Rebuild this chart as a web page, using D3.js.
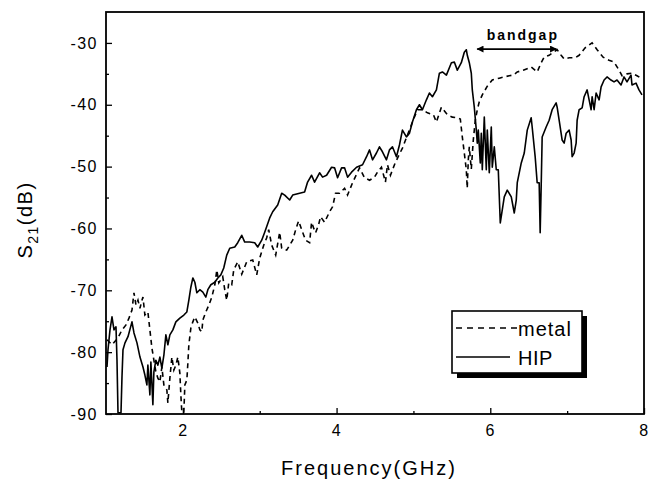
<!DOCTYPE html>
<html>
<head>
<meta charset="utf-8">
<script src="https://cdn.jsdelivr.net/npm/d3@7"></script>
<style>
  body { margin: 0; background: #fff; }
  text { font-family: "Liberation Sans", Arial, sans-serif; fill: #000; }
</style>
</head>
<body>
<div id="chart"></div>
<script>
// ---- data (GHz / dB) ----
const hipFreq = [1.013,1.026,1.052,1.078,1.104,1.13,1.143,1.156,1.195,1.208,
  1.221,1.247,1.286,1.338,1.364,1.403,1.442,1.481,1.506,1.532,
  1.545,1.571,1.584,1.61,1.623,1.649,1.675,1.701,1.727,1.753,
  1.779,1.805,1.831,1.87,1.909,1.961,2.013,2.052,2.078,2.104,
  2.13,2.156,2.182,2.221,2.26,2.299,2.325,2.364,2.416,2.455,
  2.494,2.532,2.571,2.61,2.675,2.714,2.766,2.805,2.87,2.935,
  2.974,3.026,3.065,3.13,3.169,3.234,3.286,3.325,3.39,3.429,
  3.519,3.584,3.623,3.675,3.714,3.779,3.818,3.87,3.935,3.974,
  4.013,4.065,4.104,4.143,4.195,4.26,4.338,4.39,4.429,4.468,
  4.519,4.558,4.597,4.649,4.688,4.727,4.779,4.818,4.857,4.909,
  4.948,4.987,5.039,5.078,5.117,5.169,5.208,5.247,5.299,5.338,
  5.377,5.429,5.494,5.532,5.571,5.623,5.662,5.688,5.701,5.727,
  5.753,5.766,5.792,5.818,5.831,5.844,5.87,5.883,5.896,5.922,
  5.948,5.961,5.987,6.013,6.026,6.052,6.078,6.104,6.13,6.156,
  6.182,6.221,6.273,6.312,6.338,6.351,6.403,6.442,6.481,6.532,
  6.545,6.584,6.61,6.636,6.649,6.662,6.675,6.727,6.766,6.805,
  6.857,6.87,6.896,6.935,6.961,6.987,7.026,7.052,7.065,7.091,
  7.117,7.13,7.156,7.195,7.221,7.26,7.286,7.312,7.325,7.351,
  7.377,7.416,7.442,7.481,7.519,7.571,7.61,7.649,7.701,7.74,
  7.779,7.831,7.844,7.896,7.935,7.974];
const hipS21 = [-82.4,-79.6,-76.4,-74.3,-76.4,-75.9,-81.3,-89.8,-89.8,-84.0,
  -79.6,-78.5,-77.5,-75.1,-76.9,-78.5,-80.8,-82.4,-83.7,-85.3,
  -82.1,-86.9,-81.6,-88.5,-83.2,-81.3,-82.1,-80.8,-82.6,-80.5,
  -77.2,-78.8,-77.2,-76.4,-75.1,-74.5,-74.0,-73.5,-71.6,-69.5,
  -68.0,-68.7,-70.4,-69.9,-70.3,-71.1,-69.9,-69.1,-68.7,-68.0,
  -67.5,-66.4,-64.3,-63.2,-63.0,-62.3,-61.1,-62.2,-62.2,-62.3,
  -63.0,-61.9,-60.6,-58.3,-57.3,-56.2,-54.3,-54.6,-55.4,-54.6,
  -54.3,-54.1,-52.5,-51.4,-52.5,-51.0,-51.7,-51.4,-50.1,-50.2,
  -51.8,-50.2,-50.2,-51.7,-50.9,-50.1,-49.7,-48.4,-47.3,-48.9,
  -47.8,-46.8,-47.6,-48.9,-47.3,-46.8,-48.4,-46.5,-44.1,-45.2,
  -44.6,-42.8,-40.8,-40.0,-40.8,-39.2,-38.1,-38.7,-37.6,-34.9,
  -34.7,-35.2,-33.2,-33.1,-34.4,-33.2,-31.5,-31.1,-32.0,-33.2,
  -34.9,-37.6,-40.4,-44.1,-46.2,-44.1,-49.4,-44.6,-50.5,-42.0,
  -50.5,-44.1,-51.0,-43.6,-50.1,-46.8,-50.5,-50.5,-59.1,-57.0,
  -54.9,-53.8,-54.9,-57.5,-55.4,-52.6,-49.4,-47.8,-44.1,-42.1,
  -43.6,-48.4,-52.6,-52.6,-60.7,-53.3,-45.2,-43.6,-42.5,-40.8,
  -39.7,-40.4,-42.5,-45.7,-46.2,-44.6,-44.1,-45.7,-48.4,-47.8,
  -46.2,-42.5,-40.8,-40.5,-38.7,-37.6,-39.2,-40.8,-38.7,-40.8,
  -38.1,-39.2,-37.1,-36.0,-35.5,-36.0,-36.3,-36.0,-36.8,-35.5,
  -36.3,-35.2,-36.8,-36.5,-37.6,-38.4];

const metalFreq = [1.013,1.078,1.156,1.208,1.26,1.299,1.338,1.364,1.39,1.416,
  1.442,1.468,1.481,1.506,1.545,1.571,1.597,1.623,1.649,1.675,
  1.701,1.727,1.753,1.792,1.805,1.831,1.857,1.883,1.909,1.935,
  1.961,1.974,1.987,2.013,2.026,2.052,2.065,2.078,2.104,2.13,
  2.156,2.195,2.221,2.247,2.26,2.299,2.338,2.377,2.416,2.442,
  2.468,2.494,2.519,2.545,2.571,2.597,2.636,2.662,2.714,2.766,
  2.831,2.909,2.961,3.0,3.052,3.091,3.117,3.156,3.208,3.26,
  3.286,3.351,3.39,3.429,3.468,3.506,3.558,3.597,3.649,3.675,
  3.701,3.727,3.766,3.792,3.844,3.909,3.948,3.987,4.039,4.104,
  4.143,4.208,4.299,4.364,4.429,4.494,4.532,4.584,4.636,4.662,
  4.701,4.753,4.805,4.857,4.922,4.987,5.052,5.117,5.182,5.26,
  5.299,5.364,5.442,5.506,5.571,5.61,5.636,5.662,5.688,5.7,
  5.714,5.727,5.753,5.779,5.805,5.831,5.857,5.896,5.961,6.026,
  6.117,6.182,6.247,6.299,6.351,6.429,6.532,6.61,6.662,6.701,
  6.766,6.87,6.922,6.961,7.026,7.104,7.156,7.234,7.325,7.39,
  7.468,7.545,7.61,7.675,7.714,7.779,7.844,7.909,7.974];
const metalS21 = [-78.0,-78.8,-77.7,-76.4,-75.6,-74.5,-73.2,-70.4,-72.4,-71.6,
  -72.9,-71.6,-71.1,-74.0,-73.5,-76.4,-79.3,-81.3,-83.2,-84.2,
  -84.8,-82.4,-85.3,-86.1,-88.2,-84.2,-80.8,-82.9,-82.1,-80.8,
  -83.4,-86.9,-89.8,-89.7,-85.3,-84.5,-81.8,-78.8,-76.1,-75.1,
  -74.3,-75.3,-76.4,-76.7,-74.8,-73.5,-72.4,-71.1,-69.1,-66.7,
  -68.8,-68.3,-67.8,-69.9,-71.6,-68.8,-69.1,-66.7,-65.4,-67.4,
  -65.4,-65.1,-67.5,-64.8,-62.7,-61.5,-60.2,-62.7,-64.3,-60.6,
  -63.2,-63.5,-62.7,-61.9,-60.2,-58.8,-60.6,-61.9,-62.3,-59.0,
  -59.9,-60.7,-59.4,-58.1,-59.0,-57.3,-56.5,-54.3,-54.3,-53.5,
  -54.6,-52.6,-50.2,-51.8,-52.2,-51.7,-50.9,-50.1,-52.5,-49.7,
  -51.4,-49.7,-48.3,-47.0,-44.9,-42.8,-40.8,-40.8,-41.3,-41.6,
  -42.8,-40.4,-41.6,-42.0,-42.1,-42.3,-45.2,-47.8,-50.5,-53.5,
  -48.9,-46.8,-50.4,-45.7,-42.5,-40.8,-39.5,-38.4,-37.0,-36.0,
  -35.7,-35.5,-35.3,-35.2,-34.7,-34.4,-33.9,-34.7,-33.2,-32.3,
  -32.0,-31.1,-32.0,-32.6,-32.4,-32.4,-32.0,-30.8,-30.0,-31.1,
  -32.3,-32.8,-33.1,-34.4,-35.3,-35.0,-34.9,-35.3,-35.8];

const xTicks = [2, 4, 6, 8];
const xMinorTicks = [3, 5, 7];
const yTicks = [-90, -80, -70, -60, -50, -40, -30];
const yMinorTicks = [-85, -75, -65, -55, -45, -35];
const legendLabels = ["metal", "HIP"];
const bandgapRange = [5.83, 6.86]; // GHz, arrow ends
const bandgapLevel = -31;          // dB, arrow height

// set the dimensions and margins of the graph
const margin = { top: 12, right: 5, bottom: 66, left: 106 },
  width = 649 - margin.left - margin.right,
  height = 480 - margin.top - margin.bottom;

const svg = d3
  .select("#chart")
  .append("svg")
  .attr("width", width + margin.left + margin.right)
  .attr("height", height + margin.top + margin.bottom);

const g = svg
  .append("g")
  .attr("transform", `translate(${margin.left},${margin.top})`);

const x = d3.scaleLinear().domain([1, 8]).range([0, width]);
const y = d3.scaleLinear().domain([-90, -25]).range([height, 0]);

// clip so the traces stay inside the frame
g.append("clipPath")
  .attr("id", "plot-clip")
  .append("rect")
  .attr("width", width)
  .attr("height", height);

const line = d3
  .line()
  .x((d) => x(d[0]))
  .y((d) => y(d[1]));

// metal (dashed)
g.append("path")
  .datum(d3.zip(metalFreq, metalS21))
  .attr("clip-path", "url(#plot-clip)")
  .attr("fill", "none")
  .attr("stroke", "#000")
  .attr("stroke-width", 1.6)
  .attr("stroke-dasharray", "5,4")
  .attr("d", line);

// HIP (solid)
g.append("path")
  .datum(d3.zip(hipFreq, hipS21))
  .attr("clip-path", "url(#plot-clip)")
  .attr("fill", "none")
  .attr("stroke", "#000")
  .attr("stroke-width", 1.6)
  .attr("stroke-linejoin", "round")
  .attr("d", line);

// axes: ticks point inward, labels outside
// plain hyphen for negatives, like the original figure
const plainNumber = (d) => String(d);

const tickFont = (sel) =>
  sel
    .selectAll("text")
    .style("font-size", "16px")
    .style("letter-spacing", "1.5px")
    .style("font-family", '"Liberation Sans", Arial, sans-serif');

g.append("g")
  .attr("transform", `translate(0,${height})`)
  .call(d3.axisBottom(x).tickValues(xTicks).tickSize(-6).tickPadding(11).tickFormat(plainNumber))
  .call((a) => a.select(".domain").remove())
  .call(tickFont);

g.append("g")
  .attr("transform", `translate(0,${height})`)
  .call(d3.axisBottom(x).tickValues(xMinorTicks).tickSize(-3).tickFormat(""))
  .call((a) => a.select(".domain").remove());

g.append("g")
  .call(d3.axisLeft(y).tickValues(yTicks).tickSize(-6).tickPadding(8).tickFormat(plainNumber))
  .call((a) => a.select(".domain").remove())
  .call(tickFont);

g.append("g")
  .call(d3.axisLeft(y).tickValues(yMinorTicks).tickSize(-3).tickFormat(""))
  .call((a) => a.select(".domain").remove());

g.selectAll(".tick line").attr("stroke", "#000").attr("stroke-width", 1.3);

// frame
g.append("rect")
  .attr("width", width)
  .attr("height", height)
  .attr("fill", "none")
  .attr("stroke", "#000")
  .attr("stroke-width", 1.8);

// axis titles
svg
  .append("text")
  .attr("x", margin.left + width / 2 - 6)
  .attr("y", 475)
  .attr("text-anchor", "middle")
  .style("font-size", "20px")
  .style("letter-spacing", "2px")
  .text("Frequency(GHz)");

const yTitle = svg
  .append("text")
  .attr("transform", "translate(32,220) rotate(-90)")
  .attr("text-anchor", "middle")
  .style("font-size", "20px")
  .style("letter-spacing", "1.5px");
yTitle.append("tspan").text("S");
yTitle.append("tspan").attr("dy", 6).style("font-size", "14px").text("21");
yTitle.append("tspan").attr("dy", -6).text("(dB)");

// band gap arrow
const defs = svg.append("defs");
defs
  .append("marker")
  .attr("id", "arrow")
  .attr("viewBox", "0 0 10 10")
  .attr("refX", 9)
  .attr("refY", 5)
  .attr("markerWidth", 9)
  .attr("markerHeight", 7)
  .attr("markerUnits", "userSpaceOnUse")
  .attr("orient", "auto-start-reverse")
  .append("path")
  .attr("d", "M0,0L10,5L0,10z")
  .attr("fill", "#000");

g.append("line")
  .attr("x1", x(bandgapRange[0]))
  .attr("x2", x(bandgapRange[1]))
  .attr("y1", y(bandgapLevel))
  .attr("y2", y(bandgapLevel))
  .attr("stroke", "#000")
  .attr("stroke-width", 1.8)
  .attr("marker-start", "url(#arrow)")
  .attr("marker-end", "url(#arrow)");

g.append("text")
  .attr("x", (x(bandgapRange[0]) + x(bandgapRange[1])) / 2 + 6)
  .attr("y", y(bandgapLevel) - 9)
  .attr("text-anchor", "middle")
  .style("font-size", "14px")
  .style("font-weight", "bold")
  .style("letter-spacing", "2px")
  .text("bandgap");

// legend with drop shadow
const legend = g.append("g").attr("transform", "translate(346,299)");
legend.append("rect")
  .attr("x", 5).attr("y", 5)
  .attr("width", 130).attr("height", 62)
  .attr("fill", "#000");
legend.append("rect")
  .attr("width", 130).attr("height", 62)
  .attr("fill", "#fff")
  .attr("stroke", "#000")
  .attr("stroke-width", 1.6);

legendLabels.forEach((label, i) => {
  const ly = 17 + i * 29;
  legend.append("line")
    .attr("x1", 4).attr("x2", i === 0 ? 66 : 58)
    .attr("y1", ly).attr("y2", ly)
    .attr("stroke", "#000")
    .attr("stroke-width", 1.6)
    .attr("stroke-dasharray", i === 0 ? "6,5" : null);
  legend.append("text")
    .attr("x", 66)
    .attr("y", ly + 8)
    .style("font-size", "20px")
    .style("letter-spacing", i === 0 ? "1px" : "0.5px")
    .text(label);
});
</script>
</body>
</html>
